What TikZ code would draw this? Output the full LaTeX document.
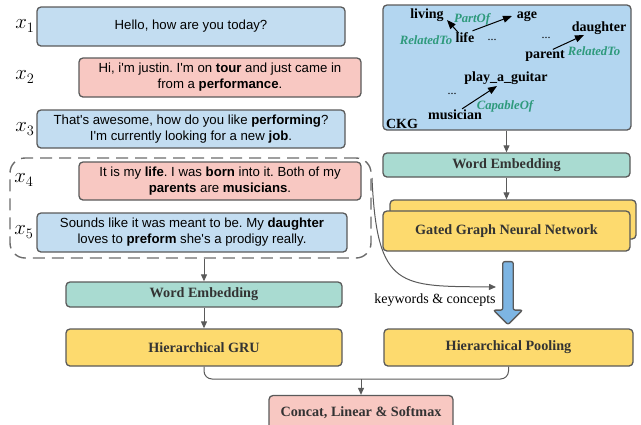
\documentclass[tikz,border=0pt]{standalone}
\usepackage{fontspec}
\setmainfont{Liberation Serif}
\newfontfamily\uttfont{Liberation Sans}
\usetikzlibrary{arrows.meta,positioning,shapes.arrows}
\frenchspacing
\definecolor{ublue}{HTML}{C3DDF1}
\definecolor{upink}{HTML}{F8C8C2}
\definecolor{ckgblue}{HTML}{B3D6F0}
\definecolor{teal1}{HTML}{A9DBD1}
\definecolor{yel}{HTML}{FDDA6E}
\definecolor{bord}{HTML}{5A5A5A}
\definecolor{bigarr}{HTML}{7DB5E3}
\definecolor{reltxt}{HTML}{2E9A7C}
\tikzset{
  box/.style={draw=bord, line width=1.3pt, rounded corners=4pt, inner sep=0pt},
  utt/.style={box, align=center, font=\uttfont\fontsize{13.2}{16}\selectfont},
  mod/.style={box, font=\bfseries\fontsize{14.2}{16}\selectfont, text=black!80},
  xlab/.style={font=\fontsize{20}{22}\selectfont},
  cn/.style={font=\bfseries\fontsize{14}{15}\selectfont, inner sep=0pt},
  rel/.style={font=\bfseries\itshape\fontsize{12.7}{14}\selectfont, text=reltxt, inner sep=0pt},
  dots/.style={font=\fontsize{12}{14}\selectfont, inner sep=0pt},
  conn/.style={draw=bord, line width=1pt, -{Triangle[length=7pt,width=6pt]}},
  karr/.style={draw=black, line width=1pt, -{Triangle[length=9pt,width=7pt]}},
}
\begin{document}
\begin{tikzpicture}[x=1pt,y=-1pt]
\useasboundingbox (0,0) rectangle (641,424);
% utterances
\node[utt, fill=ublue, minimum width=308pt, minimum height=39pt] (u1) at (191,26.5) {Hello, how are you today?};
\node[utt, fill=upink, minimum width=282pt, minimum height=39pt] (u2) at (220,77.5) {Hi, i'm justin. I'm on \textbf{tour} and just came in\\from a \textbf{performance}.};
\node[utt, fill=ublue, minimum width=308pt, minimum height=38pt] (u3) at (191,129) {That's awesome, how do you like \textbf{performing}?\\I'm currently looking for a new \textbf{job}.};
\node[utt, fill=upink, minimum width=282pt, minimum height=38pt] (u4) at (220,181) {It is my \textbf{life}. I was \textbf{born} into it. Both of my\\\textbf{parents} are \textbf{musicians}.};
\node[utt, fill=ublue, minimum width=310pt, minimum height=39pt] (u5) at (192,232.5) {Sounds like it was meant to be. My \textbf{daughter}\\loves to \textbf{preform} she's a prodigy really.};
\node[xlab] (x1) at (25,26) {$x_1$};
\node[xlab] (x2) at (25,77) {$x_2$};
\node[xlab] (x3) at (25,129) {$x_3$};
\node[xlab] (x4) at (24,180) {$x_4$};
\node[xlab] (x5) at (24,232) {$x_5$};
% dashed group
\node[draw=bord!90, line width=1.4pt, dash pattern=on 12pt off 7pt, rounded corners=15pt, minimum width=361pt, minimum height=100pt, inner sep=0pt] (grp) at (190.5,208) {};
% left column
\node[mod, fill=teal1, minimum width=276pt, minimum height=25pt] (we1) at (204,294.5) {Word Embedding};
\node[mod, fill=yel, minimum width=276pt, minimum height=37pt] (gru) at (204,347.5) {Hierarchical GRU};
\draw[conn] (grp.south -| we1.north) -- (we1.north);
\draw[conn] (we1) -- (gru);
% right column
\node[box, fill=ckgblue, minimum width=248pt, minimum height=125pt] (ckg) at (507,67.5) {};
\node[mod, fill=teal1, minimum width=247pt, minimum height=24pt] (we2) at (506.5,165) {Word Embedding};
\node[box, fill=yel, minimum width=246pt, minimum height=39pt] (gback) at (513,219.5) {};
\node[mod, fill=yel, minimum width=247pt, minimum height=40pt] (ggnn) at (506.5,231) {Gated Graph Neural Network};
\node[mod, fill=yel, minimum width=249pt, minimum height=37pt] (pool) at (508.5,347.5) {Hierarchical Pooling};
\node[mod, fill=upink, minimum width=184pt, minimum height=34pt] (cat) at (361,412.5) {Concat, Linear \& Softmax};
\draw[conn] (ckg.south -| we2.north) -- (we2.north);
\draw[conn] (we2.south) -- (we2.south |- gback.north);
% big arrow
\node[single arrow, draw=bord, line width=1.3pt, fill=bigarr, rounded corners=2pt, shape border rotate=270, minimum width=29pt, single arrow head extend=6.5pt, single arrow head indent=0pt, minimum height=63pt, inner sep=3pt] (big) at (508,290.5) {};
% keywords curve
\coordinate (ks) at (372,178);
\draw[conn] (ks) .. controls (377,290) and (400,286) .. (496,287) coordinate (ke);
\node[font=\fontsize{14}{15}\selectfont, inner sep=0pt] (kw) at (435,300) {keywords \& concepts};
% merge
\coordinate (mm) at (361,379);
\draw[draw=bord, line width=1pt, rounded corners=8pt] (gru.south) |- (mm) -| (pool.south);
\draw[conn] (mm) -- (cat.north);
% CKG content
\node[cn] (living) at (427,15) {living};
\node[cn] (age) at (527,16) {age};
\node[cn] (life) at (465,38) {life};
\node[cn] (daughter) at (599,28) {daughter};
\node[cn] (parent) at (545,56) {parent};
\node[cn] (guitar) at (506,78) {play\_a\_guitar};
\node[cn] (musician) at (455,115) {musician};
\node[cn] (ckgl) at (402,124) {CKG};
\node[rel] (r1) at (426,40) {RelatedTo};
\node[rel] (r2) at (472,19) {PartOf};
\node[rel] (r3) at (594,51) {RelatedTo};
\node[rel] (r4) at (505,106) {CapableOf};
\node[dots] (d1) at (492,40) {...};
\node[dots] (d2) at (546,38) {...};
\node[dots] (d3) at (452,94) {...};
\draw[karr] (life.north west) ++(3,0) -- (447,20);
\draw[karr] (life.north east) ++(-2,-2) -- (512,16);
\draw[karr] (parent.north east) ++(-12,-1) -- (584,35);
\draw[karr] (musician.north east) ++(-20,-1) -- (497,86);
\end{tikzpicture}
\end{document}
